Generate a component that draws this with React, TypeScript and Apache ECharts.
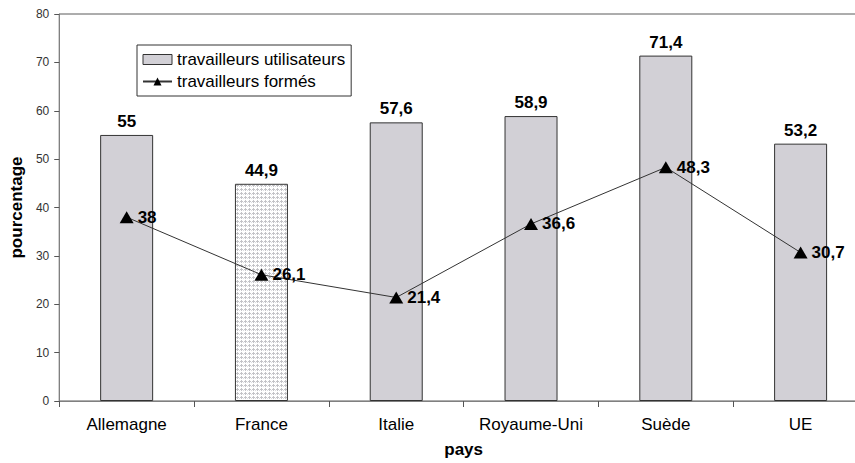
import React, { useEffect, useRef } from "react";
import * as echarts from "echarts";

const categories = ["Allemagne", "France", "Italie", "Royaume-Uni", "Suède", "UE"];
const utilisateurs = [55, 44.9, 57.6, 58.9, 71.4, 53.2];
const formes = [38, 26.1, 21.4, 36.6, 48.3, 30.7];
const yTicks = [0, 10, 20, 30, 40, 50, 60, 70, 80];

const FONT = "'Liberation Sans', Arial, sans-serif";
const fmt = (v: number) => String(v).replace(".", ",");

function makePattern() {
  const c = document.createElement("canvas");
  c.width = 4;
  c.height = 4;
  const ctx = c.getContext("2d")!;
  ctx.fillStyle = "#ffffff";
  ctx.fillRect(0, 0, 4, 4);
  ctx.fillStyle = "#c4c4c8";
  ctx.fillRect(1, 0, 1, 3);
  ctx.fillRect(0, 1, 3, 1);
  ctx.fillStyle = "#dcdce0";
  ctx.fillRect(3, 2, 1, 1);
  return c;
}

export default function App() {
  const ref = useRef<HTMLDivElement>(null);
  useEffect(() => {
    const chart = echarts.init(ref.current!, null, { renderer: "svg" });
    const pattern = { image: makePattern(), repeat: "repeat" };
    chart.setOption({
      animation: false,
      backgroundColor: "#ffffff",
      textStyle: { fontFamily: FONT },
      grid: {
        left: 58,
        top: 14,
        width: 810,
        height: 390,
        show: true,
        borderColor: "#5a5a5a",
        borderWidth: 1,
        backgroundColor: "transparent",
      },
      legend: {
        orient: "vertical",
        left: 137,
        top: 45,
        width: 220,
        padding: [6, 6, 6, 5],
        itemGap: 5,
        itemWidth: 29,
        itemHeight: 10,
        borderColor: "#333",
        borderWidth: 1,
        backgroundColor: "#fff",
        textStyle: { fontSize: 17, color: "#000", fontFamily: FONT },
        data: [
          {
            name: "travailleurs utilisateurs",
            icon: "rect",
            itemStyle: { color: "#d2d0d6", borderColor: "#333", borderWidth: 1 },
          },
          { name: "travailleurs formés" },
        ],
      },
      xAxis: {
        type: "category",
        data: categories,
        name: "pays",
        nameLocation: "middle",
        nameGap: 40,
        nameTextStyle: { fontSize: 17, fontWeight: "bold", color: "#000", fontFamily: FONT },
        axisLine: { lineStyle: { color: "#808080", width: 1 } },
        axisTick: { show: true, length: 6, lineStyle: { color: "#555" } },
        axisLabel: { fontSize: 17, color: "#000", margin: 15, interval: 0, fontFamily: FONT },
        splitLine: { show: false },
      },
      yAxis: {
        type: "value",
        min: 0,
        max: 80,
        interval: 10,
        name: "pourcentage",
        nameLocation: "middle",
        nameGap: 31,
        nameRotate: 90,
        nameTextStyle: { fontSize: 17, fontWeight: "bold", color: "#000", fontFamily: FONT },
        axisLine: { show: true, lineStyle: { color: "#808080", width: 1 } },
        axisTick: { show: true, length: 5, lineStyle: { color: "#555" } },
        axisLabel: {
          fontSize: 12,
          color: "#333",
          margin: 10,
          fontFamily: FONT,
          formatter: (v: number) => (yTicks.includes(v) ? String(v) : ""),
        },
        splitLine: { show: false },
      },
      series: [
        {
          name: "travailleurs utilisateurs",
          type: "bar",
          barWidth: 53,
          data: utilisateurs.map((v, i) =>
            i === 1
              ? { value: v, itemStyle: { color: pattern, borderColor: "#333", borderWidth: 1 } }
              : v
          ),
          itemStyle: { color: "#d2d0d6", borderColor: "#333", borderWidth: 1 },
          label: {
            show: true,
            position: "top",
            distance: 5,
            fontSize: 17,
            fontWeight: "bold",
            color: "#000",
            fontFamily: FONT,
            formatter: (p: any) => fmt(p.value),
          },
          z: 2,
        },
        {
          name: "travailleurs formés",
          type: "line",
          data: formes,
          symbol: "triangle",
          symbolSize: [14, 12],
          lineStyle: { color: "#333", width: 1 },
          itemStyle: { color: "#000" },
          label: {
            show: true,
            position: "right",
            distance: 4,
            fontSize: 17,
            fontWeight: "bold",
            color: "#000",
            fontFamily: FONT,
            formatter: (p: any) => fmt(p.value),
          },
          z: 3,
        },
      ],
    });
    return () => chart.dispose();
  }, []);
  return (
    <div style={{ position: "fixed", left: 0, top: 0, width: 855, height: 463, overflow: "hidden", background: "#fff" }}>
      <div ref={ref} style={{ width: 900, height: 463 }} />
    </div>
  );
}
